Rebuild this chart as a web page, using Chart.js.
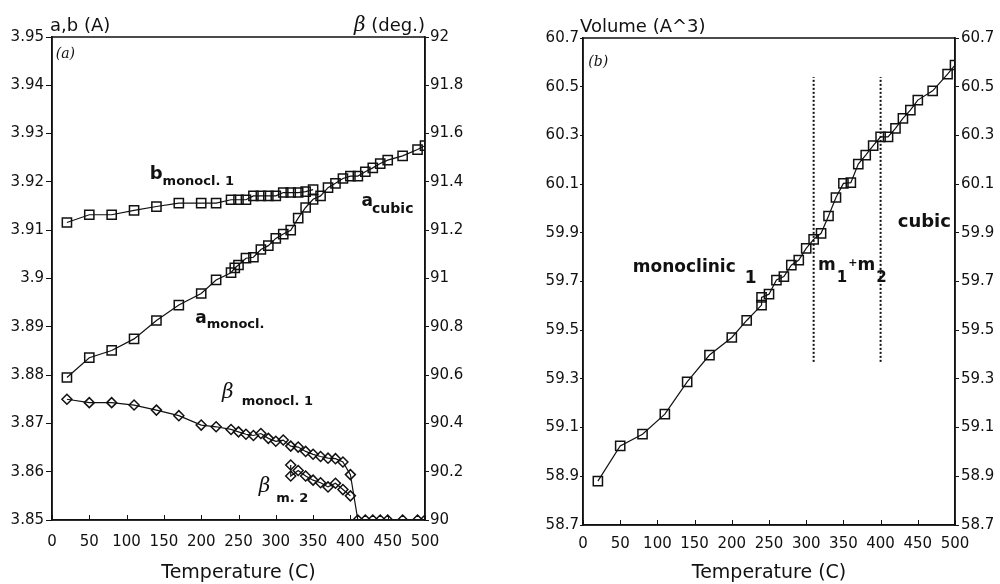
<!DOCTYPE html>
<html>
<head>
<meta charset="utf-8">
<script src="https://cdn.jsdelivr.net/npm/chart.js@4.4.1/dist/chart.umd.min.js"></script>
<style>
  html, body { margin:0; padding:0; background:#fff; }
  #wrap { position:relative; width:1000px; height:584px; }
  .panel { position:absolute; top:0; width:500px; height:584px; }
</style>
</head>
<body>
<div id="wrap">
  <div class="panel" style="left:0"><canvas id="cellChart"></canvas></div>
  <div class="panel" style="left:500px"><canvas id="volChart"></canvas></div>
</div>
<script>
// ---- datos ----
const tempTicks = [0, 50, 100, 150, 200, 250, 300, 350, 400, 450, 500];
const cellTicks = [3.85, 3.86, 3.87, 3.88, 3.89, 3.90, 3.91, 3.92, 3.93, 3.94, 3.95];
const betaTicks = [90, 90.2, 90.4, 90.6, 90.8, 91, 91.2, 91.4, 91.6, 91.8, 92];
const volTicks  = [58.7, 58.9, 59.1, 59.3, 59.5, 59.7, 59.9, 60.1, 60.3, 60.5, 60.7];

// a (monocl. + cubic)
const tempA = [20, 50, 80, 110, 140, 170, 200, 220, 240, 245, 250, 260, 270, 280, 290, 300, 310, 320, 330, 340,
               350, 360, 370, 380, 390, 400, 410, 420, 430, 440, 450, 470, 490, 500];
const latA  = [3.8795, 3.8836, 3.8851, 3.8875, 3.8913, 3.8945, 3.8969, 3.8997, 3.9012, 3.9022, 3.9028, 3.9042,
               3.9044, 3.9060, 3.9068, 3.9083, 3.9092, 3.9100, 3.9125, 3.9147, 3.9164, 3.9171, 3.9188, 3.9197,
               3.9207, 3.9212, 3.9212, 3.9221, 3.9229, 3.9238, 3.9245, 3.9254, 3.9267, 3.9275];
// b monocl. 1
const tempB = [20, 50, 80, 110, 140, 170, 200, 220, 240, 250, 260, 270, 280, 290, 300, 310, 320, 330, 340, 350];
const latB  = [3.9116, 3.9132, 3.9132, 3.9141, 3.9149, 3.9156, 3.9156, 3.9156, 3.9163, 3.9163, 3.9163, 3.9171,
               3.9171, 3.9171, 3.9171, 3.9178, 3.9178, 3.9178, 3.9180, 3.9184];
// beta monocl. 1 (y cúbico = 90)
const tempBeta1 = [20, 50, 80, 110, 140, 170, 200, 220, 240, 250, 260, 270, 280, 290, 300, 310, 320, 330, 340,
                   350, 360, 370, 380, 390, 400, 410, 420, 430, 440, 450, 470, 490, 500];
const beta1     = [90.500, 90.486, 90.486, 90.476, 90.455, 90.432, 90.393, 90.386, 90.375, 90.365, 90.355, 90.350,
                   90.358, 90.338, 90.326, 90.331, 90.306, 90.302, 90.284, 90.272, 90.263, 90.256, 90.254, 90.240,
                   90.188, 90, 90, 90, 90, 90, 90, 90, 90];
// beta m. 2
const tempBeta2 = [320, 320, 330, 340, 350, 360, 370, 380, 390, 400];
const beta2     = [90.228, 90.182, 90.205, 90.182, 90.165, 90.154, 90.137, 90.152, 90.126, 90.100];
const betaFlatT = [355, 400];
const betaFlat  = [90, 90];

// volumen
const tempV = [20, 50, 80, 110, 140, 170, 200, 220, 240, 240, 250, 260, 270, 280, 290, 300, 310, 320, 330, 340,
               350, 360, 370, 380, 390, 400, 410, 420, 430, 440, 450, 470, 490, 500];
const vol   = [58.880, 59.025, 59.073, 59.155, 59.288, 59.398, 59.470, 59.540, 59.603, 59.635, 59.648, 59.706,
               59.720, 59.767, 59.788, 59.836, 59.873, 59.898, 59.969, 60.045, 60.103, 60.106, 60.182, 60.219,
               60.258, 60.294, 60.294, 60.329, 60.370, 60.404, 60.445, 60.483, 60.552, 60.589];
// límites de fase (líneas punteadas)
const boundaryT = [310, 400];
const boundaryV = [59.37, 60.54];

// ---- estilo ----
const INK = '#111';
const SANS = '"DejaVu Sans", sans-serif';
const BETA_F = 'italic 20px "DejaVu Serif", serif';
const bold = s => `bold ${s}px ${SANS}`;
const pts = (xs, ys) => xs.map((x, i) => ({x, y: ys[i]}));

// marco, ticks hacia adentro en x y etiquetas de texto
const textPlugin = {
  id: 'textLabels',
  afterDraw(chart, args, opts) {
    const ctx = chart.ctx, ca = chart.chartArea, xs = chart.scales.x;
    ctx.save();
    ctx.strokeStyle = INK;
    ctx.lineWidth = 1.5;
    ctx.strokeRect(ca.left, ca.top, ca.right - ca.left, ca.bottom - ca.top);
    ctx.lineWidth = 1;
    xs.ticks.forEach(t => {
      const px = Math.round(xs.getPixelForValue(t.value)) + 0.5;
      ctx.beginPath(); ctx.moveTo(px, ca.bottom); ctx.lineTo(px, ca.bottom - 5); ctx.stroke();
    });
    ctx.fillStyle = INK;
    ctx.textBaseline = 'alphabetic';
    ctx.textAlign = 'left';
    (opts.labels || []).forEach(l => {
      let px, py;
      if (l.header) {
        py = ca.top + l.dy;
        let w = 0;
        l.runs.forEach(r => { ctx.font = r.f; w += (r.dx || 0) + ctx.measureText(r.t).width; });
        px = l.header === 'left' ? ca.left + l.dx : ca.right + l.dx - w;
      } else {
        px = xs.getPixelForValue(l.x);
        py = chart.scales[l.axis || 'y'].getPixelForValue(l.y);
      }
      l.runs.forEach(r => {
        ctx.font = r.f;
        px += (r.dx || 0);
        ctx.fillText(r.t, px, py + (r.dy || 0));
        px += ctx.measureText(r.t).width;
      });
    });
    ctx.restore();
  }
};

function xAxis(h, pad) {
  return {
    type: 'linear', position: 'bottom', min: 0, max: 500,
    afterBuildTicks: s => { s.ticks = tempTicks.map(v => ({value: v})); },
    afterFit: s => { s.height = h; },
    grid: {drawOnChartArea: false, drawTicks: false},
    border: {display: true, color: INK, width: 1.5},
    ticks: {color: INK, font: {family: SANS, size: 15}, padding: pad, maxRotation: 0, autoSkip: false},
    title: {display: true, text: 'Temperature (C)', color: INK, font: {family: SANS, size: 19}, padding: {top: 0, bottom: 0}}
  };
}
function yAxis(pos, min, max, tickArr, width, tickLen, pad) {
  return {
    type: 'linear', position: pos, min, max,
    afterBuildTicks: s => { s.ticks = tickArr.map(v => ({value: v})); },
    afterFit: s => { s.width = width; },
    grid: {drawOnChartArea: false, drawTicks: true, tickLength: tickLen, color: INK, lineWidth: 1},
    border: {display: true, color: INK, width: 1.5},
    ticks: {color: INK, font: {family: SANS, size: 15}, padding: pad, callback: v => String(+v.toFixed(2))}
  };
}
function series(data, axis, style, radius) {
  return {data, yAxisID: axis, showLine: true, borderColor: INK, borderWidth: 1.2, tension: 0,
          pointStyle: style, pointRadius: radius, pointBorderColor: INK, pointBorderWidth: 1.5,
          pointBackgroundColor: 'rgba(255,255,255,0)'};
}
function dotted(data, axis, dash, w) {
  return {data, yAxisID: axis, showLine: true, borderColor: INK, borderWidth: w, borderDash: dash,
          pointRadius: 0, tension: 0};
}
const baseOpts = {
  responsive: true, maintainAspectRatio: false, animation: false,
  plugins: {legend: {display: false}, tooltip: {enabled: false}}
};

// ---- panel (a): parámetros de red ----
new Chart(document.getElementById('cellChart'), {
  type: 'scatter',
  data: {datasets: [
    series(pts(tempA, latA), 'y', 'rect', 6.5),
    series(pts(tempB, latB), 'y', 'rect', 6.5),
    series(pts(tempBeta1, beta1), 'y2', 'rectRot', 5),
    series(pts(tempBeta2, beta2), 'y2', 'rectRot', 5),
    dotted(pts(betaFlatT, betaFlat), 'y2', [1, 3], 1)
  ]},
  options: Object.assign({}, baseOpts, {
    layout: {padding: {top: 37, left: 0, right: 0, bottom: 0}},
    scales: {
      x: xAxis(64, 13),
      y: yAxis('left', 3.85, 3.95, cellTicks, 52, 6, 2),
      y2: yAxis('right', 90, 92, betaTicks, 75, 4, 1)
    },
    plugins: Object.assign({}, baseOpts.plugins, {textLabels: {labels: [
      {header: 'left', dx: -2, dy: -6, runs: [{t: 'a,b (A)', f: `18px ${SANS}`}]},
      {header: 'right', dx: 0, dy: -6, runs: [{t: 'β', f: BETA_F}, {t: ' (deg.)', f: `18px ${SANS}`}]},
      {x: 5, y: 3.9457, runs: [{t: '(a)', f: 'italic 14px "DejaVu Serif", serif'}]},
      {x: 131, y: 3.9206, runs: [{t: 'b', f: bold(18)}, {t: 'monocl. 1', f: bold(13), dx: 0, dy: 6}]},
      {x: 415, y: 3.9150, runs: [{t: 'a', f: bold(17)}, {t: 'cubic', f: bold(14), dx: -1, dy: 7}]},
      {x: 192, y: 3.8908, runs: [{t: 'a', f: bold(17)}, {t: 'monocl.', f: bold(13), dx: 0, dy: 5}]},
      {x: 228, y: 3.8753, runs: [{t: 'β', f: BETA_F}, {t: 'monocl. 1', f: bold(13), dx: 8, dy: 7}]},
      {x: 277, y: 3.8558, runs: [{t: 'β', f: BETA_F}, {t: 'm. 2', f: bold(13), dx: 6, dy: 10}]}
    ]}})
  }),
  plugins: [textPlugin]
});

// ---- panel (b): volumen ----
new Chart(document.getElementById('volChart'), {
  type: 'scatter',
  data: {datasets: [
    series(pts(tempV, vol), 'y', 'rect', 6.5),
    dotted(pts([boundaryT[0], boundaryT[0]], boundaryV), 'y', [2, 2], 2),
    dotted(pts([boundaryT[1], boundaryT[1]], boundaryV), 'y', [2, 2], 2)
  ]},
  options: Object.assign({}, baseOpts, {
    layout: {padding: {top: 38, left: 0, right: 0, bottom: 0}},
    scales: {
      x: xAxis(59, 10),
      y: yAxis('left', 58.7, 60.7, volTicks, 83, 3, 1),
      y2: yAxis('right', 58.7, 60.7, volTicks, 45, 4, 2)
    },
    plugins: Object.assign({}, baseOpts.plugins, {textLabels: {labels: [
      {header: 'left', dx: -3, dy: -6, runs: [{t: 'Volume (A^3)', f: `18px ${SANS}`}]},
      {x: 7, y: 60.585, runs: [{t: '(b)', f: 'italic 14px "DejaVu Serif", serif'}]},
      {x: 67, y: 59.739, runs: [{t: 'monoclinic', f: bold(17)}, {t: '1', f: bold(17), dx: 9, dy: 11}]},
      {x: 316, y: 59.747, runs: [{t: 'm', f: bold(17)}, {t: '1', f: bold(15), dx: 1, dy: 12},
                                 {t: '+', f: bold(11), dx: 1, dy: -4}, {t: 'm', f: bold(17), dx: 0},
                                 {t: '2', f: bold(15), dx: 1, dy: 12}]},
      {x: 423, y: 59.923, runs: [{t: 'cubic', f: bold(18)}]}
    ]}})
  }),
  plugins: [textPlugin]
});
</script>
</body>
</html>
